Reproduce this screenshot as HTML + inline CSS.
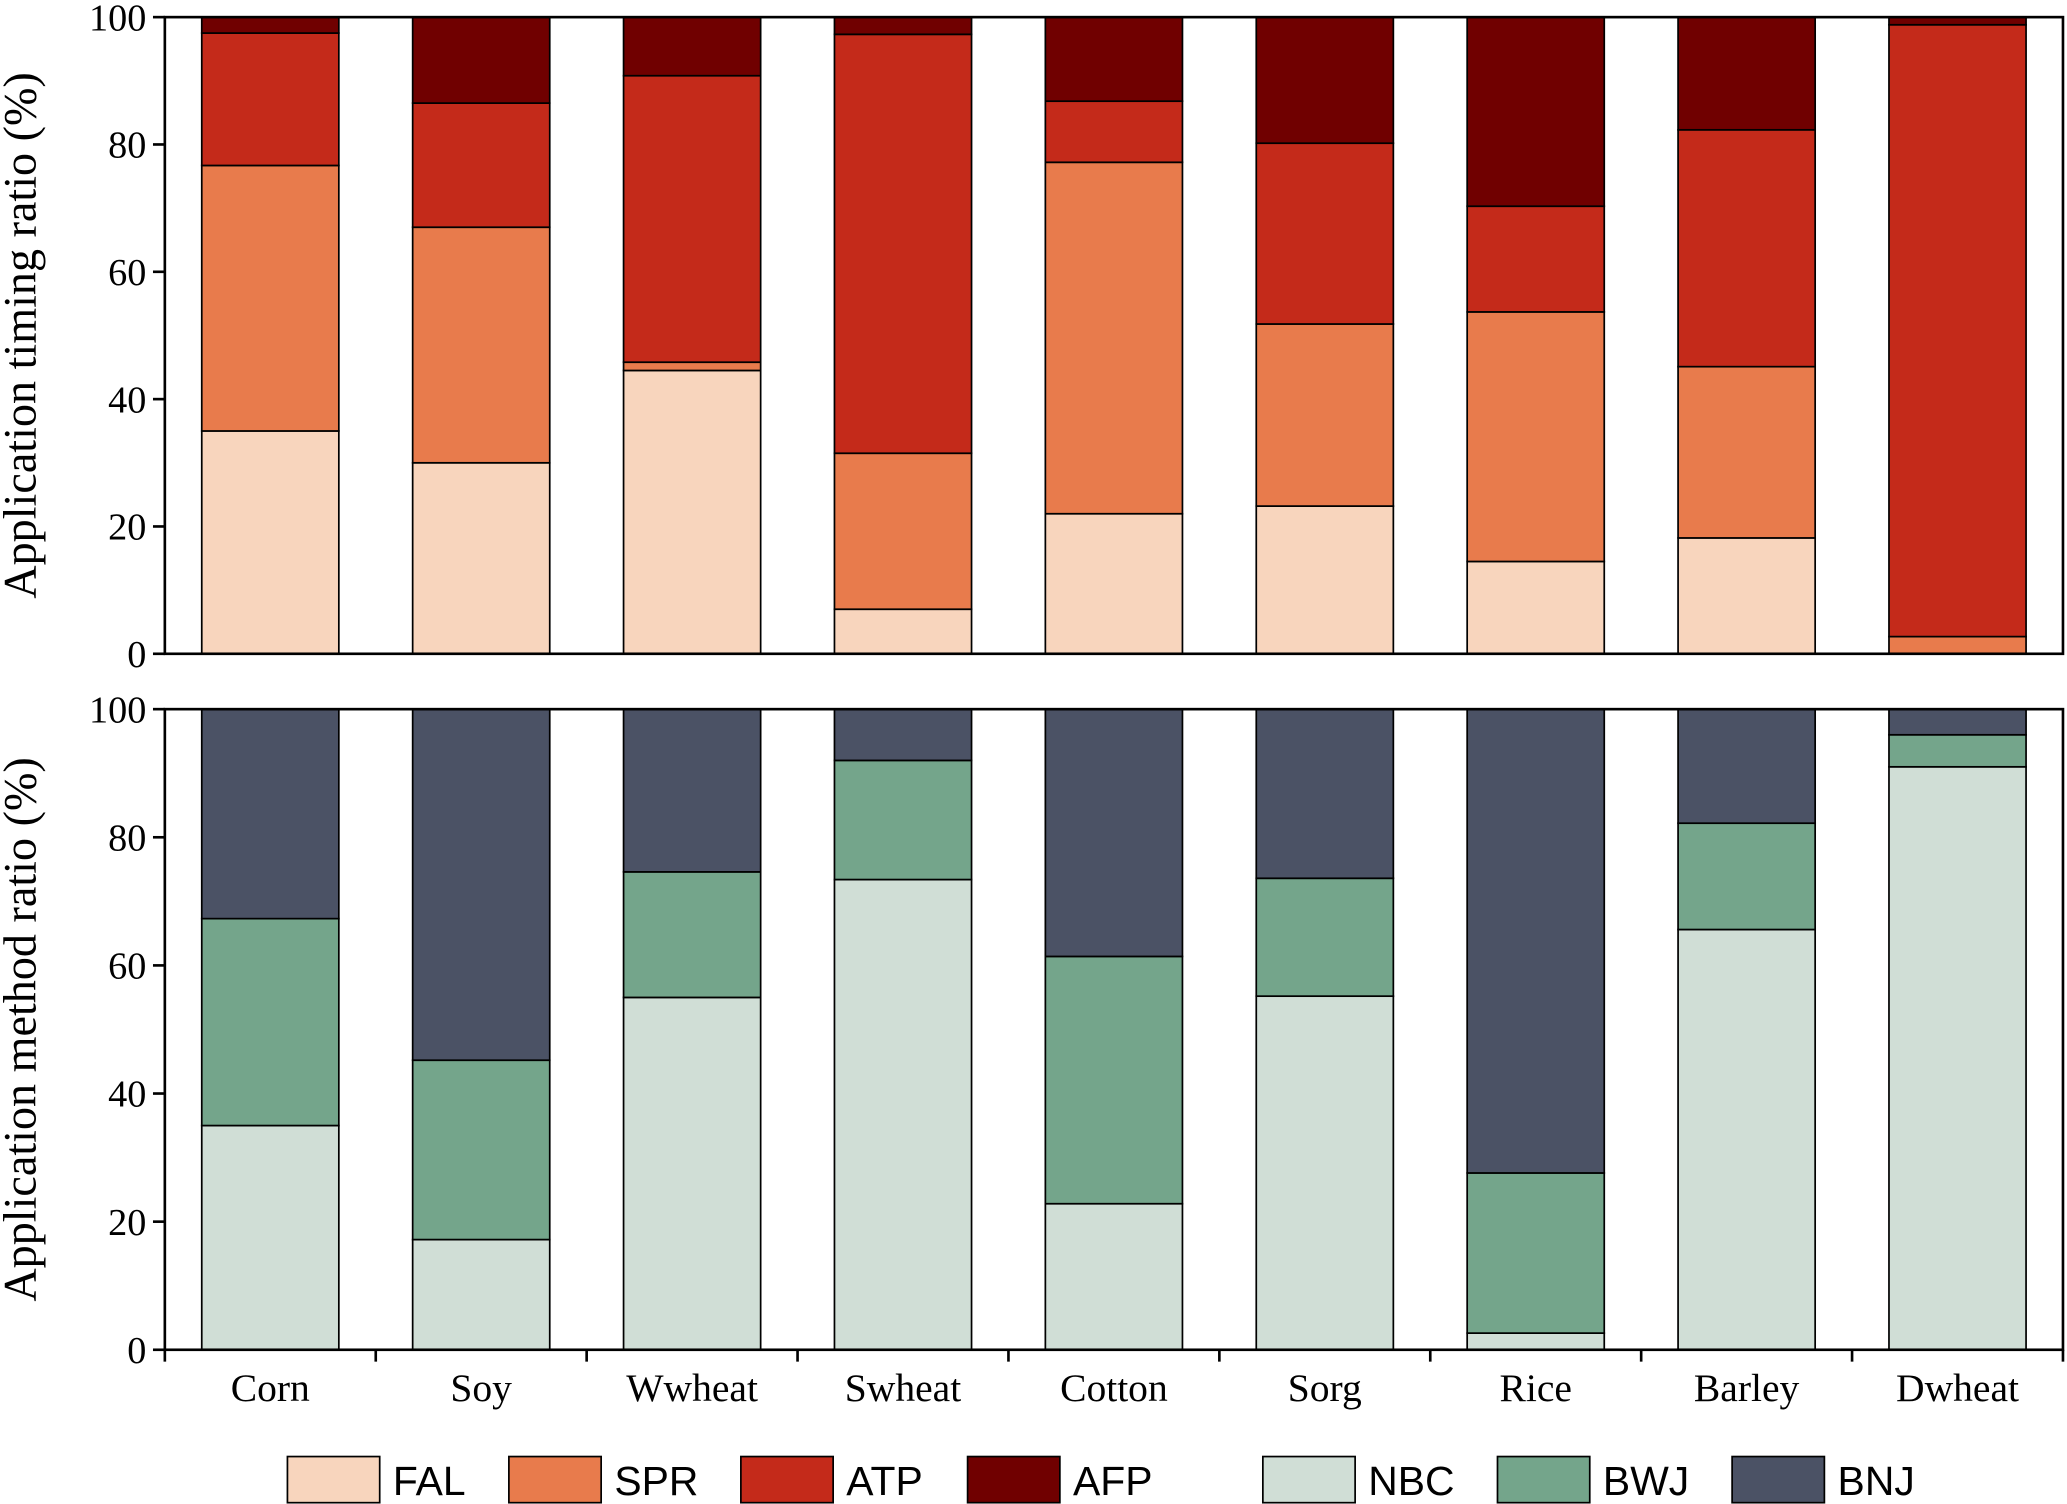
<!DOCTYPE html>
<html><head><meta charset="utf-8"><style>
html,body{margin:0;padding:0;background:#fff;}
svg{display:block;}
</style></head><body>
<svg id="chart" width="2067" height="1504" viewBox="0 0 1568 1141" xmlns="http://www.w3.org/2000/svg"></svg>
<script>
const categories = ["Corn","Soy","Wwheat","Swheat","Cotton","Sorg","Rice","Barley","Dwheat"];
const FAL = [35,30,44.5,7,22,23.2,14.5,18.2,0];
const SPR = [41.7,37,1.3,24.5,55.2,28.6,39.2,26.9,2.7];
const ATP = [20.8,19.5,45,65.8,9.6,28.4,16.6,37.2,96.1];
const AFP = [2.5,13.5,9.2,2.7,13.2,19.8,29.7,17.7,1.2];
const NBC = [35,17.2,55,73.4,22.8,55.2,2.6,65.6,91];
const BWJ = [32.3,28,19.6,18.6,38.6,18.4,25,16.6,5];
const BNJ = [32.7,54.8,25.4,8,38.6,26.4,72.4,17.8,4];
const yTicks = [0,20,40,60,80,100];
const timingSeries = [["FAL",FAL,"#f8d5bd"],["SPR",SPR,"#e87b4c"],["ATP",ATP,"#c42a1a"],["AFP",AFP,"#700000"]];
const methodSeries = [["NBC",NBC,"#d0ded6"],["BWJ",BWJ,"#74a58b"],["BNJ",BNJ,"#4b5265"]];

const svg = document.getElementById('chart');
const NS = "http://www.w3.org/2000/svg";
function mk(tag, attrs, parent){const e=document.createElementNS(NS,tag);for(const k in attrs)e.setAttribute(k,attrs[k]);(parent||svg).appendChild(e);return e;}
const X0=125, X1=1565, band=(X1-X0)/categories.length, barW=104;
function xc(i){return X0+band*(i+0.5);}
const SERIF='"Liberation Serif", serif';

function panel(name, top, bottom, series, ylabel, showX){
  const g = mk('g',{});
  
  
  const y = v => bottom - (bottom-top)*v/100;
  categories.forEach((c,i)=>{
    let cum=0;
    series.forEach(([sn,arr,col])=>{
      const v=arr[i];
      const r=mk('rect',{x:xc(i)-barW/2,y:y(cum+v),width:barW,height:y(cum)-y(cum+v),fill:col,stroke:'#000','stroke-width':1.3},g);
      
      
      cum+=v;
    });
  });
  const frame=mk('rect',{x:X0,y:top,width:X1-X0,height:bottom-top,fill:'none',stroke:'#000','stroke-width':2},g);
  
  
  yTicks.forEach(t=>{
    mk('line',{x1:X0-9,x2:X0,y1:y(t),y2:y(t),stroke:'#000','stroke-width':2},g);
    const tx=mk('text',{x:X0-14,y:y(t)+10,'text-anchor':'end','font-family':SERIF,'font-size':29},g);
    tx.textContent=t;
    
    
  });
  const yl=mk('text',{transform:`translate(27,${(top+bottom)/2}) rotate(-90)`,'text-anchor':'middle','font-family':SERIF,'font-size':35},g);
  yl.textContent=ylabel;
  
  
  if(showX){
    for(let i=0;i<=categories.length;i++) mk('line',{x1:X0+band*i,x2:X0+band*i,y1:bottom,y2:bottom+9,stroke:'#000','stroke-width':2},g);
    categories.forEach((c,i)=>{
      const t=mk('text',{x:xc(i),y:bottom+39,'text-anchor':'middle','font-family':SERIF,'font-size':30},g);
      t.textContent=c;
      
      
    });
  }
}
panel('timing',13,496,timingSeries,'Application timing ratio (%)',false);
panel('method',538,1024,methodSeries,'Application method ratio (%)',true);

const legendX=[218,386,562,734,958,1136,1314];
const legendItems=[...timingSeries,...methodSeries];
legendItems.forEach(([sn,arr,col],k)=>{
  const g=mk('g',{});
  
  
  mk('rect',{x:legendX[k],y:1105,width:70,height:35,fill:col,stroke:'#000','stroke-width':1.3},g);
  const t=mk('text',{x:legendX[k]+80,y:1134,'font-family':'"Liberation Sans", sans-serif','font-size':31},g);
  t.textContent=sn;
});
</script>
</body></html>
